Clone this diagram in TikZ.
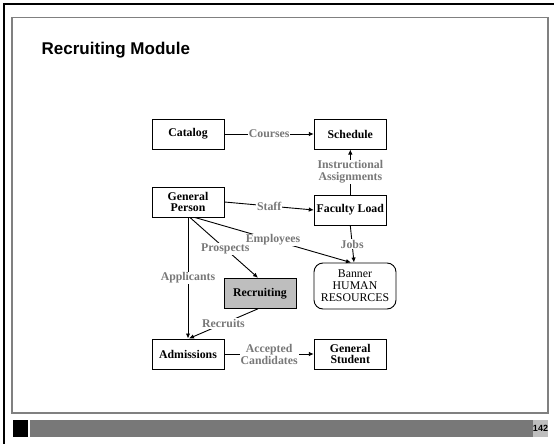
\documentclass[tikz,border=0pt]{standalone}
\usepackage{fontspec}
\setmainfont{Liberation Serif}
\newfontfamily\arialfont{Liberation Sans}
\usetikzlibrary{arrows.meta}
\definecolor{lblgray}{RGB}{120,120,120}
\definecolor{framegray}{RGB}{128,128,128}
\definecolor{bargray}{RGB}{120,120,120}
\definecolor{numgray}{RGB}{190,190,190}
\definecolor{recfill}{RGB}{190,190,190}
\begin{document}
\begin{tikzpicture}[x=1pt,y=-1pt,
  entbox/.style={draw,line width=1pt,minimum width=72pt,minimum height=30pt,inner sep=0pt,
    align=center,font=\fontsize{11.8}{12}\selectfont\bfseries},
  lbl/.style={fill=white,inner sep=1pt,text=lblgray,align=center,
    font=\fontsize{11.8}{12}\selectfont\bfseries},
  conn/.style={line width=0.9pt},
  arr/.style={line width=0.9pt,-{Latex[length=5pt,width=4.5pt]}}]
\useasboundingbox (0,0) rectangle (554,444);
% slide frame
\draw[line width=2pt] (4,444) -- (4,4) -- (554,4);
\draw[framegray,line width=1.3pt] (12,17.5) rectangle (548,413);
% footer
\fill[black] (13,420) rectangle (28,437);
\fill[bargray] (30,420) rectangle (533,437);
\fill[numgray] (533,420) rectangle (548,437);
\node[font=\arialfont\fontsize{9}{10}\selectfont\bfseries,inner sep=0pt] (pg) at (540.5,428.5) {142};
% title
\node[anchor=base west,inner sep=0pt,font=\arialfont\fontsize{17}{20}\selectfont\bfseries] (title) at (41.5,55) {Recruiting Module};
% entities
\node[entbox] (cat) at (188,134) {Catalog};
\node[entbox] (sch) at (350.3,134) {Schedule};
\node[entbox] (gp) at (188,202) {General\\[-1pt]Person};
\node[entbox] (fl) at (350.3,210) {Faculty Load};
\node[entbox,fill=recfill] (rec) at (260,293.3) {Recruiting};
\node[draw,line width=0.9pt,rounded corners=9pt,minimum width=82pt,minimum height=46pt,inner sep=0pt,
  align=center,font=\fontsize{11.8}{12}\selectfont] (hr) at (355,286) {Banner\\HUMAN\\RESOURCES};
\node[entbox] (adm) at (188,354) {Admissions};
\node[entbox] (gs) at (350.3,354) {General\\[-1pt]Student};
% connectors
\draw[arr] (cat) -- node[lbl] {Courses} (sch);
\draw[arr] (fl) -- node[lbl] {Instructional\\Assignments} (sch);
\draw[arr] (gp.east) -- node[lbl] {Staff} (fl.west);
\draw[arr] (fl.south) -- node[lbl] {Jobs} ([xshift=-1pt]hr.north);
\draw[arr] ([xshift=7pt]gp.south) -- node[lbl] {Employees} ([xshift=-4pt]hr.north);
\draw[arr] ([xshift=2pt]gp.south) -- node[lbl,pos=0.52] {Prospects} ([xshift=-2pt]rec.north);
\draw[arr] (gp.south) -- node[lbl] {Applicants} (adm.north);
\draw[arr] ([xshift=-2pt]rec.south) -- node[lbl] {Recruits} ([xshift=1pt]adm.north);
\draw[arr] (adm) -- node[lbl] {Accepted\\Candidates} (gs);
\end{tikzpicture}
\end{document}
